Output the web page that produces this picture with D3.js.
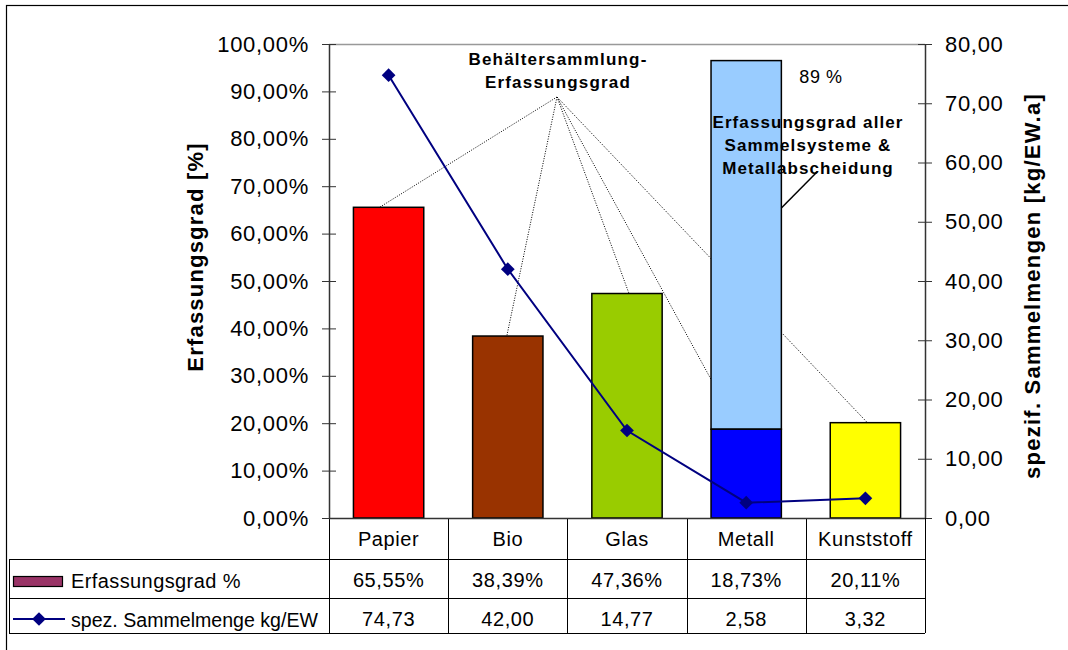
<!DOCTYPE html>
<html>
<head>
<meta charset="utf-8">
<script src="https://cdn.jsdelivr.net/npm/d3@7"></script>
<style>
  body { margin: 0; background: #fff; }
  svg { font-family: "Liberation Sans", Arial, sans-serif; }
</style>
</head>
<body>
<div id="app"></div>
<script>
// data
const categories = ["Papier", "Bio", "Glas", "Metall", "Kunststoff"];
const erfassungsgrad = [65.55, 38.39, 47.36, 18.73, 20.11];
const sammelmenge = [74.73, 42.00, 14.77, 2.58, 3.32];
const barColors = ["#ff0000", "#993300", "#99cc00", "#0000ff", "#ffff00"];
const metallGesamt = 96.5;   // Erfassungsgrad aller Sammelsysteme & Metallabscheidung
const metallLabel = "89 %";
const leftTicks = [0, 10, 20, 30, 40, 50, 60, 70, 80, 90, 100];
const rightTicks = [0, 10, 20, 30, 40, 50, 60, 70, 80];

const width = 1068, height = 650;
const plot = { left: 329, right: 925, top: 44, bottom: 518 };
const rowY = [518, 559, 598, 633];

const svg = d3.select("#app").append("svg")
  .attr("width", width)
  .attr("height", height);

// outer chart frame
svg.append("rect")
  .attr("x", 6.5).attr("y", 5.5)
  .attr("width", width + 20).attr("height", height + 20)
  .attr("fill", "none").attr("stroke", "#000").attr("stroke-width", 1.2);

const x = d3.scaleBand()
  .domain(categories)
  .range([plot.left, plot.right])
  .paddingInner(0.41).paddingOuter(0.205);

const band = (plot.right - plot.left) / categories.length;
const cx = d => plot.left + band * (categories.indexOf(d) + 0.5);

const y = d3.scaleLinear().domain([0, 100]).range([plot.bottom, plot.top]);
const y2 = d3.scaleLinear().domain([0, 80]).range([plot.bottom, plot.top]);

// plot area top border
svg.append("line")
  .attr("x1", plot.left).attr("x2", plot.right)
  .attr("y1", plot.top + 0.5).attr("y2", plot.top + 0.5)
  .attr("stroke", "#999").attr("stroke-width", 1.5);

// annotation dotted lines (origin under the "Behältersammlung" label)
const origin = [557, 97];
const dotOffsets = [-9, -1, 2, -8, 2];
const dotted = svg.append("g")
  .attr("fill", "none").attr("stroke", "#000")
  .attr("stroke-width", 1).attr("stroke-dasharray", "1,1.5");

// Kunststoff line runs behind the Metall bar
dotted.append("line")
  .attr("x1", origin[0]).attr("y1", origin[1])
  .attr("x2", cx(categories[4]) + dotOffsets[4]).attr("y2", y(erfassungsgrad[4]));

// bars
const bw = x.bandwidth();
svg.append("rect")
  .attr("x", cx("Metall") - bw / 2).attr("width", bw)
  .attr("y", y(metallGesamt)).attr("height", y(erfassungsgrad[3]) - y(metallGesamt))
  .attr("fill", "#99ccff").attr("stroke", "#000").attr("stroke-width", 1.5);

svg.append("g").selectAll("rect")
  .data(categories)
  .join("rect")
  .attr("x", d => cx(d) - bw / 2)
  .attr("width", bw)
  .attr("y", (d, i) => y(erfassungsgrad[i]))
  .attr("height", (d, i) => y(0) - y(erfassungsgrad[i]))
  .attr("fill", (d, i) => barColors[i])
  .attr("stroke", "#000").attr("stroke-width", 1.5);

// remaining dotted lines
dotted.selectAll("line.dl")
  .data(categories.slice(0, 4))
  .join("line")
  .attr("class", "dl")
  .attr("x1", origin[0]).attr("y1", origin[1])
  .attr("x2", (d, i) => cx(d) + dotOffsets[i])
  .attr("y2", (d, i) => y(erfassungsgrad[i]));

// axes
const leftAxis = d3.axisLeft(y).tickValues(leftTicks)
  .tickSize(0).tickPadding(20)
  .tickFormat(d => d3.format(".2f")(d).replace(".", ",") + "%");
const gl = svg.append("g").attr("transform", `translate(${plot.left},0)`).call(leftAxis);
gl.select(".domain").attr("stroke", "#333").attr("stroke-width", 1.5);

const rightAxis = d3.axisRight(y2).tickValues(rightTicks)
  .tickSize(0).tickPadding(20)
  .tickFormat(d => d3.format(".2f")(d).replace(".", ","));
const gr = svg.append("g").attr("transform", `translate(${plot.right},0)`).call(rightAxis);
gr.select(".domain").attr("stroke", "#333").attr("stroke-width", 1.5);

[gl, gr].forEach(g => {
  g.selectAll(".tick line").attr("x1", -7).attr("x2", 7).attr("stroke", "#333");
  g.selectAll(".tick text")
    .attr("font-size", 22).attr("fill", "#000")
    .attr("letter-spacing", 0.7).attr("font-family", "Liberation Sans, Arial, sans-serif");
});

// axis titles
svg.append("text")
  .attr("transform", `translate(203,257) rotate(-90)`)
  .attr("text-anchor", "middle")
  .attr("font-size", 22).attr("font-weight", "bold").attr("letter-spacing", 1.2)
  .text("Erfassungsgrad [%]");

svg.append("text")
  .attr("transform", `translate(1040,286) rotate(-90)`)
  .attr("text-anchor", "middle")
  .attr("font-size", 22).attr("font-weight", "bold").attr("letter-spacing", 1.25)
  .text("spezif. Sammelmengen [kg/EW.a]");

// line series
const line = d3.line()
  .x((d, i) => cx(categories[i]))
  .y(d => y2(d));

svg.append("path")
  .datum(sammelmenge)
  .attr("fill", "none").attr("stroke", "#000080").attr("stroke-width", 2)
  .attr("d", line);

const diamond = d3.symbol().type(d3.symbolDiamond2).size(120);
svg.append("g").selectAll("path")
  .data(sammelmenge)
  .join("path")
  .attr("transform", (d, i) => `translate(${cx(categories[i])},${y2(d)})`)
  .attr("d", diamond)
  .attr("fill", "#000080");

// annotations
const ann = svg.append("text")
  .attr("text-anchor", "middle")
  .attr("font-size", 17).attr("font-weight", "bold").attr("letter-spacing", 1.2);
ann.append("tspan").attr("x", 558).attr("y", 65).text("Behältersammlung-");
ann.append("tspan").attr("x", 558).attr("y", 88).text("Erfassungsgrad");

svg.append("text")
  .attr("x", 821).attr("y", 83)
  .attr("text-anchor", "middle")
  .attr("font-size", 18).attr("letter-spacing", 0.6)
  .text(metallLabel);

svg.append("line")
  .attr("x1", cx("Metall") + bw / 2).attr("y1", 208)
  .attr("x2", 817).attr("y2", 172)
  .attr("stroke", "#000").attr("stroke-width", 1.5);

const ann2 = svg.append("text")
  .attr("text-anchor", "middle")
  .attr("font-size", 17).attr("font-weight", "bold").attr("letter-spacing", 1.1);
["Erfassungsgrad aller", "Sammelsysteme &", "Metallabscheidung"].forEach((t, i) => {
  ann2.append("tspan").attr("x", 808).attr("y", 128 + i * 23).text(t);
});

// data table
const table = svg.append("g").attr("stroke", "#000").attr("stroke-width", 1);
const colEdges = d3.range(categories.length + 1).map(i => plot.left + band * i);

// column verticals
colEdges.forEach(xe => {
  table.append("line")
    .attr("x1", Math.round(xe) + 0.5).attr("x2", Math.round(xe) + 0.5)
    .attr("y1", rowY[0]).attr("y2", rowY[3]);
});
// horizontal rules
table.append("line").attr("x1", plot.left).attr("x2", plot.right)
  .attr("y1", rowY[0] + 0.5).attr("y2", rowY[0] + 0.5).attr("stroke", "#333").attr("stroke-width", 1.5);
[rowY[1], rowY[2], rowY[3]].forEach(yy => {
  table.append("line").attr("x1", 9).attr("x2", plot.right)
    .attr("y1", yy + 0.5).attr("y2", yy + 0.5);
});
table.append("line").attr("x1", 9.5).attr("x2", 9.5)
  .attr("y1", rowY[1]).attr("y2", rowY[3]);

const cellText = (txt, xx, yy) => svg.append("text")
  .attr("x", xx).attr("y", yy)
  .attr("text-anchor", "middle")
  .attr("font-size", 20).attr("letter-spacing", 0.6)
  .text(txt);

categories.forEach((c, i) => {
  cellText(c, cx(c), 546);
  cellText(d3.format(".2f")(erfassungsgrad[i]).replace(".", ",") + "%", cx(c), 587);
  cellText(d3.format(".2f")(sammelmenge[i]).replace(".", ","), cx(c), 626);
});

// legend keys
svg.append("rect")
  .attr("x", 13.5).attr("y", 576.5).attr("width", 49).attr("height", 10)
  .attr("fill", "#993366").attr("stroke", "#000").attr("stroke-width", 1.2);
svg.append("line")
  .attr("x1", 13).attr("x2", 65).attr("y1", 619).attr("y2", 619)
  .attr("stroke", "#000080").attr("stroke-width", 2);
svg.append("path")
  .attr("transform", "translate(39,619)")
  .attr("d", diamond).attr("fill", "#000080");

svg.append("text").attr("x", 71).attr("y", 588)
  .attr("font-size", 20).attr("letter-spacing", 0.4)
  .text("Erfassungsgrad %");
svg.append("text").attr("x", 71).attr("y", 627)
  .attr("font-size", 20)
  .attr("textLength", 247).attr("lengthAdjust", "spacingAndGlyphs")
  .text("spez. Sammelmenge kg/EW");
</script>
</body>
</html>
